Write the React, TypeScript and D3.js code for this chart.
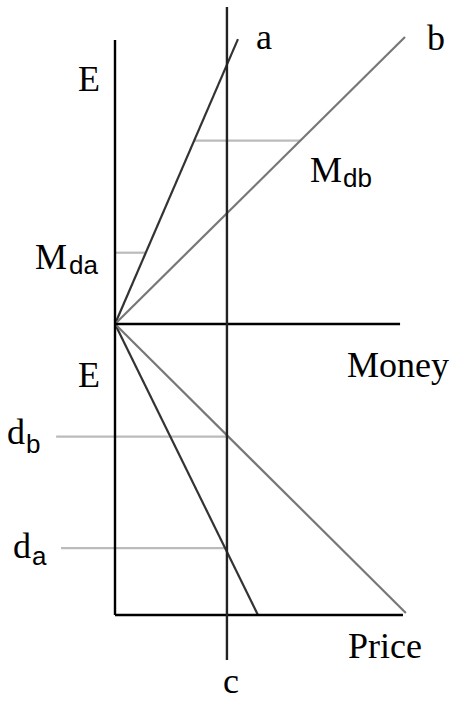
import React from "react";
import * as d3 from "d3";

// Abstract diagram coordinates: x 0..10 (left axis to right), y -10..10 (origin E at 0)
const axisLines = [
  { id: "leftAxis", x1: 0, y1: 9.76, x2: 0, y2: -10 },
  { id: "moneyAxis", x1: 0, y1: 0, x2: 9.83, y2: 0 },
  { id: "priceAxis", x1: 0, y1: -10, x2: 9.93, y2: -10 },
  { id: "cLine", x1: 3.86, y1: 10.89, x2: 3.86, y2: -11.55 },
];
const rays = [
  { id: "a", x2: 4.24, y2: 9.79, color: "#333333" },
  { id: "b", x2: 10.0, y2: 9.86, color: "#777777" },
  { id: "lowA", x2: 4.93, y2: -10, color: "#333333" },
  { id: "lowB", x2: 10.03, y2: -9.93, color: "#777777" },
];
const guideLines = [
  { id: "mdb", x1: 2.69, x2: 6.38, y: 6.3 },
  { id: "mda", x1: 0, x2: 1.07, y: 2.45 },
  { id: "db", x1: -2.03, x2: 3.86, y: -3.87 },
  { id: "da", x1: -1.86, x2: 3.86, y: -7.7 },
];
const labels = ["E", "a", "b", "M", "db", "M", "da", "E", "Money", "d", "b", "d", "a", "Price", "c"];

export default function App() {
  const W = 454;
  const H = 702;
  const x = d3.scaleLinear().domain([0, 10]).range([115, 405]);
  const y = d3.scaleLinear().domain([-10, 10]).range([615, 33]);
  const serif = "'Liberation Serif', 'Times New Roman', serif";
  const sans = "'Liberation Sans', Arial, sans-serif";
  const big = 36;
  const small = 26;
  const T = (t: string, px: number, py: number, sub = false, key?: string) => (
    <text
      key={key}
      x={px}
      y={py}
      fontFamily={sub ? sans : serif}
      fontSize={sub ? small : big}
      fill="#000"
    >
      {t}
    </text>
  );
  return (
    <svg
      width={W}
      height={H}
      style={{ position: "absolute", left: 0, top: 0, background: "#fff" }}
    >
      <rect width={W} height={H} fill="#fff" />
      {guideLines.map((g) => (
        <line
          key={g.id}
          x1={x(g.x1)}
          x2={x(g.x2)}
          y1={y(g.y)}
          y2={y(g.y)}
          stroke="#bbbbbb"
          strokeWidth={2.2}
        />
      ))}
      {rays.map((r) => (
        <line
          key={r.id}
          x1={x(0)}
          y1={y(0)}
          x2={x(r.x2)}
          y2={y(r.y2)}
          stroke={r.color}
          strokeWidth={2.2}
        />
      ))}
      {axisLines.map((l) => (
        <line
          key={l.id}
          x1={x(l.x1)}
          y1={y(l.y1)}
          x2={x(l.x2)}
          y2={y(l.y2)}
          stroke={l.id === "cLine" ? "#222" : "#000"}
          strokeWidth={2.4}
        />
      ))}
      {T(labels[0], 78, 91, false, "E1")}
      {T(labels[1], 256, 49, false, "a")}
      {T(labels[2], 427, 50, false, "b")}
      {T(labels[3], 310, 182, false, "Mdb")}
      {T(labels[4], 343, 187, true, "dbs")}
      {T(labels[5], 35, 269, false, "Mda")}
      {T(labels[6], 69, 274, true, "das")}
      {T(labels[7], 78, 387, false, "E2")}
      {T(labels[8], 347, 377, false, "Money")}
      {T(labels[9], 7, 444, false, "d1")}
      {T(labels[10], 26, 453, true, "bs")}
      {T(labels[11], 13, 558, false, "d2")}
      {T(labels[12], 32, 565, true, "as")}
      {T(labels[13], 348, 658, false, "Price")}
      {T(labels[14], 223, 693, false, "c")}
    </svg>
  );
}
